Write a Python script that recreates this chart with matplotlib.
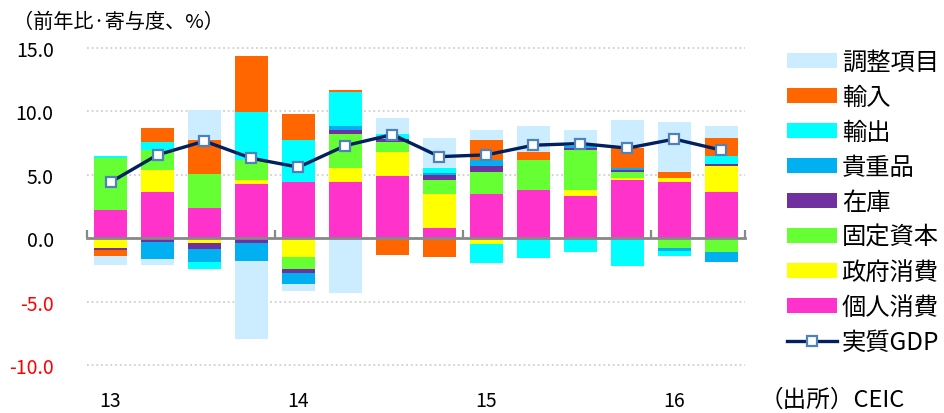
import matplotlib
matplotlib.use("Agg")
import matplotlib.pyplot as plt
import matplotlib.transforms as mtransforms
from matplotlib.patches import Patch
from matplotlib.lines import Line2D
import numpy as np

plt.rcParams['font.family'] = ['Noto Sans CJK JP', 'DejaVu Sans']

# 2013Q1 .. 2016Q2
quarters = ["13Q1", "13Q2", "13Q3", "13Q4", "14Q1", "14Q2", "14Q3", "14Q4",
            "15Q1", "15Q2", "15Q3", "15Q4", "16Q1", "16Q2"]
year_labels = ["13", "14", "15", "16"]

private_cons = [2.23, 3.65, 2.39, 4.28, 4.42, 4.42, 4.91, 0.81, 3.49, 3.81, 3.34, 4.60, 4.44, 3.65]
gov_cons = [-0.79, 1.74, -0.37, 0.32, -1.47, 1.12, 1.87, 2.68, -0.42, 0.0, 0.47, 0.16, 0.32, 2.05]
fixed_cap = [4.08, 1.57, 2.68, 1.57, -0.95, 2.68, 0.79, 1.13, 1.74, 2.37, 3.15, 0.47, -0.76, -1.08]
inventory = [-0.16, -0.32, -0.47, -0.37, -0.29, 0.32, 0.26, 0.39, 0.47, 0.0, 0.16, 0.16, 0.0, 0.16]
valuables = [0.0, -1.31, -1.05, -1.39, -0.92, 0.29, 0.0, 0.10, 0.47, 0.0, 0.16, 0.16, -0.24, -0.76]
exports = [0.16, 0.63, -0.53, 3.81, 3.33, 2.68, 0.39, 0.42, -1.55, -1.52, -1.05, -2.16, -0.37, 0.63]
imports = [-0.47, 1.10, 2.68, 4.37, 2.03, 0.19, -1.31, -1.47, 1.58, 0.63, 0.0, 1.58, 0.47, 1.42]
adjust = [-0.68, -0.47, 2.37, -6.15, -0.53, -4.28, 1.24, 2.37, 0.79, 2.05, 1.26, 2.21, 3.94, 0.95]
real_gdp = [4.42, 6.57, 7.65, 6.30, 5.60, 7.30, 8.17, 6.43, 6.57, 7.33, 7.46, 7.10, 7.81, 6.94]

# stacking order (bottom -> top), label, colour
series = [
    (private_cons, "個人消費", "#FF33CC"),
    (gov_cons, "政府消費", "#FFFF00"),
    (fixed_cap, "固定資本", "#66FF33"),
    (inventory, "在庫", "#7030A0"),
    (valuables, "貴重品", "#00B0F0"),
    (exports, "輸出", "#00FFFF"),
    (imports, "輸入", "#FF6600"),
    (adjust, "調整項目", "#CCECFF"),
]

W, H, DPI = 945, 414, 100
fig = plt.figure(figsize=(W / DPI, H / DPI), dpi=DPI)

ymin, ymax = -11.5, 15.8
ax = fig.add_axes([87 / W, (H - 385.4) / H, 658 / W, (385.4 - 38.6) / H])

x = np.arange(len(quarters))
pos_base = np.zeros(len(x))
neg_base = np.zeros(len(x))
for vals, lab, col in series:
    v = np.array(vals)
    base = np.where(v >= 0, pos_base, neg_base)
    ax.bar(x, v, bottom=base, width=0.72, color=col, edgecolor='none', zorder=2)
    pos_base += np.where(v >= 0, v, 0)
    neg_base += np.where(v < 0, v, 0)

ax.plot(x, real_gdp, color='#002060', lw=2.4, marker='s', markersize=7,
        markerfacecolor='white', markeredgecolor='#4F81BD', markeredgewidth=1.6, zorder=4)

ax.set_xlim(-0.5, len(x) - 0.5)
ax.set_ylim(ymin, ymax)

# gridlines
yt = [15, 10, 5, 0, -5, -10]
for y in yt:
    if y != 0:
        ax.axhline(y, color='#D0D0D0', lw=1.3, ls=(0, (1, 1.6)), zorder=1)
ax.set_yticks(yt)
ax.set_yticklabels([f"{v:.1f}" for v in yt], fontsize=14)
for lbl, v in zip(ax.get_yticklabels(), yt):
    lbl.set_color('red' if v < 0 else 'black')
ax.tick_params(axis='y', length=0, pad=24)

for s in ['top', 'right', 'left']:
    ax.spines[s].set_visible(False)
ax.spines['bottom'].set_position(('data', 0))
ax.spines['bottom'].set_color('#888888')
ax.spines['bottom'].set_linewidth(2)
ax.spines['bottom'].set_zorder(3)
ax.set_xticks([-0.5, 3.5, 7.5, 11.5, 13.5])
ax.set_xticklabels([])
ax.tick_params(axis='x', direction='in', length=6, width=1.6, color='#888888')

trans = mtransforms.blended_transform_factory(ax.transData, fig.transFigure)
for i, lab in enumerate(year_labels):
    ax.text(i * 4, 1 - 402 / H, lab, transform=trans, ha='center', va='center', fontsize=14)

fig.text(13 / W, 1 - 22 / H, "（前年比·寄与度、%）", ha='left', va='center', fontsize=14.5)
fig.text(760 / W, 1 - 400 / H, "（出所）CEIC", ha='left', va='center', fontsize=17)

handles = [Patch(facecolor=col, edgecolor='none', label=lab) for vals, lab, col in series[::-1]]
handles.append(Line2D([], [], color='#002060', lw=2.4, marker='s', markersize=7,
                      markerfacecolor='white', markeredgecolor='#4F81BD',
                      markeredgewidth=1.6, label="実質GDP"))
fig.legend(handles=handles, loc='upper left', bbox_to_anchor=(787 / W, 1 - 50 / H),
           frameon=False, fontsize=17.5, handlelength=2.05, handleheight=0.62,
           handletextpad=0.2, labelspacing=0.37, borderpad=0, borderaxespad=0)

fig.savefig("out.png", dpi=DPI)
